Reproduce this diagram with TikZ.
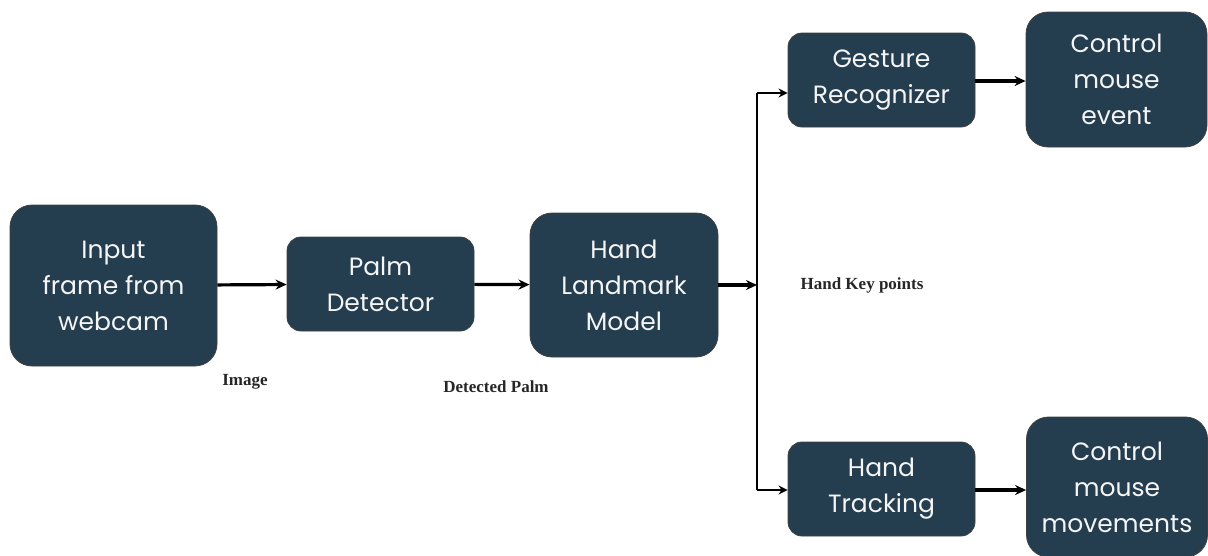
\documentclass[tikz,border=0pt]{standalone}
\usepackage{fontspec}
\setmainfont{Poppins}
\newfontfamily\captionfont{Liberation Serif}
\usetikzlibrary{positioning, arrows.meta, calc}
\definecolor{boxblue}{HTML}{243D4F}

\begin{document}
\begin{tikzpicture}[x=1pt, y=-1pt,
    block/.style={rectangle, rounded corners=14pt, draw=black!75, line width=0.8pt, fill=boxblue, text=white!92!gray, align=center, inner sep=0pt, font=\fontsize{25}{36}\selectfont},
    bigblock/.style={block, rounded corners=22pt},
    arrow/.style={-{Stealth[length=11pt, width=10pt]}, line width=3.2pt},
    branch/.style={-{Stealth[length=9pt, width=9pt]}, line width=2.2pt},
    tag/.style={font=\captionfont\bfseries\fontsize{17}{19}\selectfont, text=black!85}
]
    \useasboundingbox (0,0) rectangle (1208,555);

    \node[bigblock, minimum width=207pt, minimum height=161pt] (input) at (113.5,285.5) {Input\\frame from\\webcam};
    \node[block, minimum width=187pt, minimum height=94pt] (palm) at (380.5,284) {Palm\\Detector};
    \node[bigblock, minimum width=188pt, minimum height=144pt] (landmark) at (624,285) {Hand\\Landmark\\Model};
    \node[block, minimum width=187pt, minimum height=94pt] (gesture) at (881.5,80) {Gesture\\Recognizer};
    \node[bigblock, minimum width=181pt, minimum height=135pt] (event) at (1116.5,79.5) {Control\\mouse\\event};
    \node[block, minimum width=187pt, minimum height=94pt] (tracking) at (881.5,489) {Hand\\Tracking};
    \node[bigblock, minimum width=181pt, minimum height=140pt] (movement) at (1117,487) {Control\\mouse\\movements};

    % captions under the links
    \node[tag] (imagetag) at (245,382) {Image};
    \node[tag] (palmtag) at (496,387) {Detected Palm};
    \node[tag] (keytag) at (862,285) {Hand Key points};

    % split point of the key points
    \coordinate (split) at (757,285);
    \coordinate (top) at (757,93);
    \coordinate (bottom) at (757,490);

    \draw[arrow] (input) -- (palm);
    \draw[arrow] (palm) -- (landmark);
    \draw[arrow] (landmark.east |- split) -- (split);
    \draw[line width=2.2pt] (top) -- (bottom);
    \draw[branch] (top) -- (top -| gesture.west);
    \draw[branch] (bottom) -- (bottom -| tracking.west);
    \draw[arrow] (gesture.east |- 0,81) -- (event.west |- 0,81);
    \draw[arrow] (tracking.east |- 0,490) -- (movement.west |- 0,490);
\end{tikzpicture}
\end{document}
